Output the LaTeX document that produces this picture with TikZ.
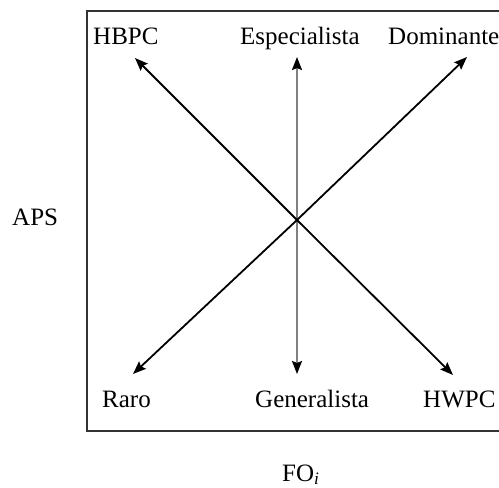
\documentclass[tikz,border=0pt]{standalone}
\usepackage{fontspec}
\setmainfont{Liberation Serif}
\usetikzlibrary{arrows.meta}
\begin{document}
\begin{tikzpicture}[x=1pt,y=-1pt,
  lbl/.style={anchor=base west,inner sep=0pt,font=\fontsize{25}{30}\selectfont},
  arr/.style={line width=1.8pt,-{Stealth[length=13pt,width=10pt,inset=2pt]}},
  varr/.style={line width=2pt,draw=black!50,-{Stealth[length=13pt,width=10pt,inset=2pt,color=black]}},
  frame/.style={line width=1.6pt,draw=black!80}]
\useasboundingbox (0,0) rectangle (499,488);
\clip (0,0) rectangle (499,488);
\draw[frame] (87,11) rectangle (510,431);
\coordinate (c) at (297,220);
\coordinate (tl) at (135,58);
\coordinate (tc) at (297,57);
\coordinate (tr) at (467,57);
\coordinate (bl) at (133,374);
\coordinate (bc) at (297,374);
\coordinate (br) at (453,375);
\draw[varr] (c) -- (tc);
\draw[varr] (c) -- (bc);
\draw[arr] (c) -- (tl);
\draw[arr] (c) -- (tr);
\draw[arr] (c) -- (bl);
\draw[arr] (c) -- (br);
\node[lbl] (hbpc) at (93,44) {HBPC};
\node[lbl] (esp) at (240,44) {Especialista};
\node[lbl] (dom) at (388,44) {Dominante};
\node[lbl] (raro) at (102,407) {Raro};
\node[lbl] (gen) at (255,407) {Generalista};
\node[lbl] (hwpc) at (423,407) {HWPC};
\node[lbl] (aps) at (12,225) {APS};
\node[lbl] (fo) at (282,481) {FO\textsubscript{\textit{i}}};
\end{tikzpicture}
\end{document}
